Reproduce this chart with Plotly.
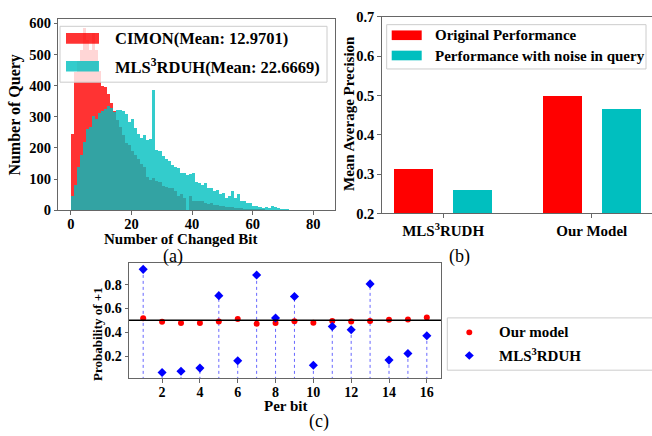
import plotly.graph_objects as go

# ---------------- data ----------------
# (a) histogram counts per unit bin (bin k spans [k, k+1])
cimon_counts = [247, 445, 480, 516, 585, 547, 516, 571, 516, 448, 400, 398, 373, 345, 320,
                292, 270, 242, 216, 211, 193, 180, 165, 150, 140, 108, 100, 106, 95, 93,
                80, 76, 72, 72, 62, 48, 52, 42, 0, 46, 31, 31, 30, 31, 26, 20, 24, 19, 19,
                14, 14, 12, 12, 11, 10, 10, 9, 7, 7, 6, 6, 5, 4, 4, 3, 3, 2, 2, 2, 1, 1, 1,
                1, 1, 1]
mls_counts = [46, 83, 139, 180, 222, 263, 268, 303, 293, 312, 319, 326, 335, 330, 318,
              322, 324, 320, 310, 284, 295, 265, 245, 233, 243, 226, 230, 388, 195, 192,
              175, 165, 160, 148, 140, 138, 122, 120, 114, 118, 122, 93, 88, 84, 88, 72,
              74, 62, 66, 52, 56, 42, 48, 62, 40, 55, 32, 30, 26, 24, 15, 16, 12, 10, 12,
              9, 14, 12, 8, 6, 5, 4, 3, 3, 2, 2, 1, 1, 2, 1, 1, 1, 1]
hist_names = ["CIMON(Mean: 12.9701)", "MLS<sup>3</sup>RDUH(Mean: 22.6669)"]

# (b) mean average precision
models = ["MLS<sup>3</sup>RUDH", "Our Model"]
map_original = [0.312, 0.499]
map_noise = [0.261, 0.465]
bar_names = ["Original Performance", "Performance with noise in query"]

# (c) probability of +1 per bit
bits = list(range(1, 17))
prob_ours = [0.517, 0.488, 0.478, 0.478, 0.490, 0.512, 0.472, 0.478, 0.493, 0.480,
             0.495, 0.490, 0.495, 0.504, 0.507, 0.523]
prob_mls = [0.928, 0.062, 0.072, 0.099, 0.707, 0.160, 0.880, 0.520, 0.700, 0.123,
            0.448, 0.421, 0.806, 0.166, 0.222, 0.371]
series_c = ["Our model", "MLS<sup>3</sup>RDUH"]
THRESH = 0.5

# ---------------- styling helpers ----------------
W, H = 652, 436
FONT = "Liberation Serif"
SPINE = "#666666"


def fx(p):
    return p / W


def fy(p):
    return 1 - p / H


def tf(size):
    return dict(family=FONT, size=size, color="black", weight="bold")


RED_A = "rgba(255,0,0,0.8)"
CYAN_A = "rgba(0,191,191,0.8)"

fig = go.Figure()

# ---------------- (a) histogram ----------------
fig.add_trace(go.Bar(x=list(range(len(cimon_counts))), y=cimon_counts, width=1, offset=0,
                     marker=dict(color=RED_A, line=dict(width=0)), name=hist_names[0],
                     showlegend=False, xaxis="x", yaxis="y"))
fig.add_trace(go.Bar(x=list(range(len(mls_counts))), y=mls_counts, width=1, offset=0,
                     marker=dict(color=CYAN_A, line=dict(width=0)), name=hist_names[1],
                     showlegend=False, xaxis="x", yaxis="y"))

# ---------------- (b) bars ----------------
fig.add_trace(go.Bar(x=[0, 1], y=map_original, width=0.263, offset=-0.33,
                     marker=dict(color="#ff0000", line=dict(width=0)), name=bar_names[0],
                     showlegend=False, xaxis="x2", yaxis="y2"))
fig.add_trace(go.Bar(x=[0, 1], y=map_noise, width=0.263, offset=0.065,
                     marker=dict(color="#00bfbf", line=dict(width=0)), name=bar_names[1],
                     showlegend=False, xaxis="x2", yaxis="y2"))

# ---------------- (c) stems + markers ----------------
sx, sy = [], []
for b, v in zip(bits, prob_mls):
    sx += [b, b, None]
    sy += [0, v, None]
fig.add_trace(go.Scatter(x=sx, y=sy, mode="lines",
                         line=dict(color="rgba(0,0,255,0.6)", width=1, dash="dot"),
                         showlegend=False, hoverinfo="skip", xaxis="x3", yaxis="y3"))
fig.add_trace(go.Scatter(x=bits, y=prob_ours, mode="markers", name=series_c[0],
                         marker=dict(color="#ff0000", size=6, symbol="circle"),
                         showlegend=False, xaxis="x3", yaxis="y3"))
fig.add_trace(go.Scatter(x=bits, y=prob_mls, mode="markers", name=series_c[1],
                         marker=dict(color="#0000ff", size=7, symbol="diamond"),
                         showlegend=False, xaxis="x3", yaxis="y3"))

axis_common = dict(showline=True, linecolor=SPINE, linewidth=1, ticks="outside",
                   ticklen=3.5, tickcolor=SPINE, showgrid=False, zeroline=False)

fig.update_layout(
    width=W, height=H, margin=dict(l=0, r=0, t=0, b=0),
    paper_bgcolor="white", plot_bgcolor="white",
    barmode="overlay", bargap=0, showlegend=False,
    xaxis=dict(domain=[fx(58.3), fx(335)], range=[-4.15, 87.15], anchor="y",
               tickvals=[0, 20, 40, 60, 80], mirror=True, tickfont=tf(14.5),
               ticklabelstandoff=-3, **axis_common),
    yaxis=dict(domain=[fy(210), fy(11)], range=[0, 615], anchor="x",
               tickvals=[0, 100, 200, 300, 400, 500, 600], mirror=True, tickfont=tf(14.5),
               **axis_common),
    xaxis2=dict(domain=[fx(381.7), 1.0], range=[-0.413, 1.405], anchor="y2",
                tickvals=[0, 1], ticktext=models, mirror=True, tickfont=tf(15), **axis_common),
    yaxis2=dict(domain=[fy(213.3), fy(9.3)], range=[0.2, 0.7], anchor="x2",
                tickvals=[0.2, 0.3, 0.4, 0.5, 0.6, 0.7], tickformat=".1f",
                mirror=False, tickfont=tf(14.5), **axis_common),
    xaxis3=dict(domain=[fx(129), fx(441)], range=[0.25, 16.75], anchor="y3",
                tickvals=[2, 4, 6, 8, 10, 12, 14, 16], mirror=True, tickfont=tf(14),
                ticklabelstandoff=-2, **axis_common),
    yaxis3=dict(domain=[fy(384.3), fy(265)], range=[0.014, 0.979], anchor="x3",
                tickvals=[0.2, 0.4, 0.6, 0.8], tickformat=".1f", mirror=True,
                tickfont=tf(14), **axis_common),
)

# diamond legend symbol for (c)
dcx, dcy, dr = 469.3, 360.7, 4.5
diamond_path = "M {} {} L {} {} L {} {} L {} {} Z".format(
    fx(dcx), fy(dcy - dr), fx(dcx + dr), fy(dcy), fx(dcx), fy(dcy + dr), fx(dcx - dr), fy(dcy))

shapes = [
    # threshold line in (c)
    dict(type="line", xref="x3 domain", yref="y3", x0=0, x1=1, y0=THRESH, y1=THRESH,
         line=dict(color="black", width=1.5)),
    # legend (a)
    dict(type="rect", xref="paper", yref="paper", x0=fx(60), x1=fx(327), y0=fy(77), y1=fy(19),
         fillcolor="rgba(255,255,255,0.8)", line=dict(color="#cccccc", width=1)),
    dict(type="rect", xref="paper", yref="paper", x0=fx(66), x1=fx(99), y0=fy(37), y1=fy(26),
         fillcolor=RED_A, line=dict(width=0)),
    dict(type="rect", xref="paper", yref="paper", x0=fx(66), x1=fx(99), y0=fy(66), y1=fy(55),
         fillcolor=CYAN_A, line=dict(width=0)),
    # legend (b)
    dict(type="rect", xref="paper", yref="paper", x0=fx(386.7), x1=fx(646), y0=fy(63.3),
         y1=fy(17.3), fillcolor="rgba(255,255,255,0.8)", line=dict(color="#cccccc", width=1)),
    dict(type="rect", xref="paper", yref="paper", x0=fx(391.7), x1=fx(421.7), y0=fy(33.3),
         y1=fy(23.3), fillcolor="#ff0000", line=dict(width=0)),
    dict(type="rect", xref="paper", yref="paper", x0=fx(391.7), x1=fx(421.7), y0=fy(54.3),
         y1=fy(44.3), fillcolor="#00bfbf", line=dict(width=0)),
    # legend (c)
    dict(type="rect", xref="paper", yref="paper", x0=fx(447.3), x1=fx(662), y0=fy(376),
         y1=fy(321.7), fillcolor="white", line=dict(color="#cccccc", width=1)),
    dict(type="circle", xref="paper", yref="paper", x0=fx(466.3), x1=fx(472.3),
         y0=fy(339.7), y1=fy(333.7), fillcolor="#ff0000", line=dict(width=0)),
    dict(type="path", xref="paper", yref="paper", path=diamond_path,
         fillcolor="#0000ff", line=dict(width=0)),
]
fig.update_layout(shapes=shapes)


def ann(text, x, y, size, bold=True, angle=0, xanchor="center"):
    f = tf(size) if bold else dict(family=FONT, size=size, color="black")
    fig.add_annotation(text=text, x=fx(x), y=fy(y), xref="paper", yref="paper",
                       showarrow=False, xanchor=xanchor, yanchor="middle",
                       textangle=angle, font=f)


ann(hist_names[0], 113, 31.5, 16.5, xanchor="left")
ann(hist_names[1], 113, 60.5, 16.5, xanchor="left")
ann(bar_names[0], 433.3, 28.5, 15, xanchor="left")
ann(bar_names[1], 433.3, 49.5, 15, xanchor="left")
ann(series_c[0], 496.7, 336.7, 15, xanchor="left")
ann(series_c[1], 496.7, 360.7, 15, xanchor="left")

ann("Number of Changed Bit", 180.5, 240, 15)
ann("(a)", 172.5, 257.5, 18, bold=False)
ann("Number of Query", 15, 111.7, 16, angle=-90)
ann("Mean Average Precision", 349, 110, 15, angle=-90)
ann("(b)", 459, 257.5, 18, bold=False)
ann("Probability of +1", 97.5, 339, 13, angle=-90)
ann("Per bit", 285.3, 413.5, 15)
ann("(c)", 319, 429, 18, bold=False)

fig.write_html("out.html", config={"displayModeBar": False},
               post_script="document.body.style.margin='0px';")
